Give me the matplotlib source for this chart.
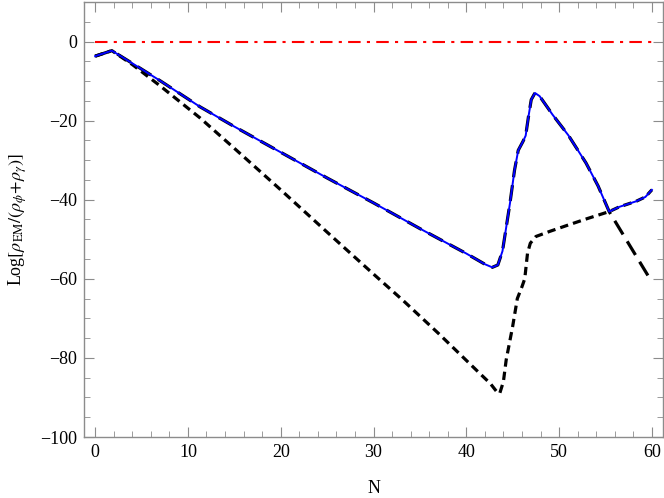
import numpy as np
import matplotlib.pyplot as plt
from matplotlib.ticker import MultipleLocator

plt.rcParams['font.family'] = ['Liberation Serif', 'DejaVu Serif']
plt.rcParams['mathtext.fontset'] = 'stix'

# upper curve (blue solid / black long dash up to the crossing)
n_up = [0, 1.8, 4, 7, 11.3, 15, 20, 25, 30, 35, 40, 42, 42.8, 43.4, 43.9, 44.3, 44.7,
        45.2, 45.6, 46.1, 46.4, 46.7, 47.0, 47.4, 47.9, 49.3, 51, 52.9, 54.2, 55.4]
y_up = [-3.7, -2.3, -5.5, -9.9, -16.5, -21.5, -28, -34.5, -40.8, -47.3, -53.6, -56.3, -57.1,
        -56.5, -53, -47, -41, -32.5, -27.5, -25.3, -23.8, -19, -14.7, -13.0, -13.8, -18.5,
        -23.7, -30.7, -36.5, -43.0]

# tail after the crossing
n_tail = [55.4, 56.5, 58.3, 59.3, 60]
y_tail = [-43.0, -41.8, -40.4, -39.3, -37.5]

# long dashed black falls away after the crossing
n_drop = [55.4, 60]
y_drop = [-43.0, -60.8]

# lower curve (black short dash)
n_low = [0, 1.8, 4, 7, 11.3, 15, 20, 25, 30, 33.2, 37, 41.4, 42.6, 43.3, 43.6, 44.0, 44.3,
         45.0, 45.5, 46.0, 46.3, 46.6, 46.9, 47.5, 49, 51.1, 53, 55.4]
y_low = [-3.7, -2.3, -5.8, -11.2, -19.3, -27, -37.5, -48.2, -58.8, -65.5, -73.8, -83.8,
         -86.5, -88.6, -89.0, -86, -80.5, -72, -65, -62, -60, -53.5, -51, -49.3, -48,
         -46.3, -44.8, -43.0]

n_ref = [0, 60]
y_ref = [0, 0]

fig = plt.figure(figsize=(6.64, 4.98), dpi=100)
ax = fig.add_axes([84/664, 1-437/498, (663-84)/664, (437-2)/498])

ax.plot(n_ref, y_ref, color='red', lw=1.5, dashes=(6, 3, 1.5, 3))
ax.plot(n_low + n_tail[1:], y_low + y_tail[1:], color='black', lw=2.3, dashes=(2.6, 1.6))
ax.plot(n_up + n_drop[1:], y_up + y_drop[1:], color='black', lw=2.3, dashes=(5, 2.5))
ax.plot(n_up + n_tail[1:], y_up + y_tail[1:], color='blue', lw=1.4)

ax.set_xlim(-1.2, 61.2)
ax.set_ylim(-100, 10)
ax.xaxis.set_major_locator(MultipleLocator(10))
ax.xaxis.set_minor_locator(MultipleLocator(2))
ax.yaxis.set_major_locator(MultipleLocator(20))
ax.yaxis.set_minor_locator(MultipleLocator(5))
ax.set_yticks([0, -20, -40, -60, -80, -100])
ax.set_yticklabels(['0', '\u221220', '\u221240', '\u221260', '\u221280', '\u2212100'])

for s in ax.spines.values():
    s.set_color('#8c8c8c')
    s.set_linewidth(1.0)
ax.tick_params(which='both', direction='in', top=True, right=True, color='#8c8c8c',
               labelsize=13, pad=5)
ax.tick_params(which='major', length=7)
ax.tick_params(which='minor', length=4)

ax.set_xlabel('N', fontsize=13, labelpad=14)
ax.set_ylabel(r'Log$[\rho_{\rm EM}/(\rho_\phi\!+\!\rho_\gamma)]$', fontsize=13, labelpad=8)

fig.savefig('out.png', dpi=100)
